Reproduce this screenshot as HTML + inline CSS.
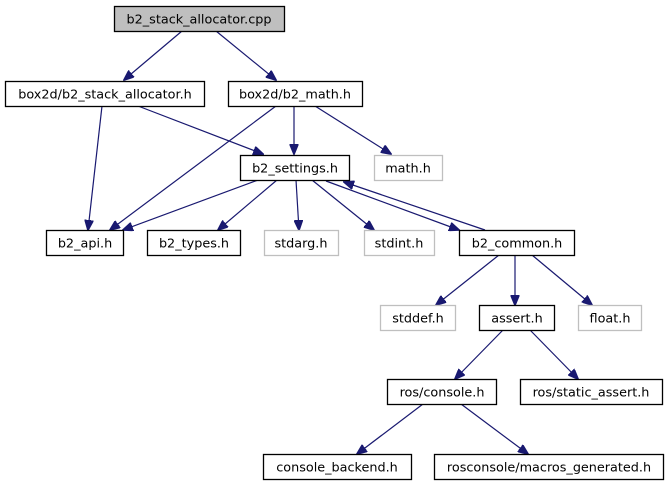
<!DOCTYPE html>
<html><head><style>body{margin:0;background:#fff}svg{display:block}text{font-family:"DejaVu Sans","Liberation Sans",sans-serif;font-size:12.8px}</style></head><body>
<svg width="669" height="485" viewBox="0 0 669 485" xmlns="http://www.w3.org/2000/svg">
<defs><marker id="a" markerWidth="11" markerHeight="9" refX="10" refY="4.5" orient="auto" markerUnits="userSpaceOnUse"><path d="M0,0 L11,4.5 L0,9 z" fill="#191970" stroke="#191970"/></marker></defs>
<g stroke="#191970" stroke-width="1.2" fill="none" marker-end="url(#a)">
<line x1="182" y1="31" x2="124" y2="80"/>
<line x1="216" y1="31" x2="276" y2="80"/>
<line x1="102" y1="106" x2="88" y2="230"/>
<line x1="138" y1="106" x2="263" y2="154"/>
<line x1="276" y1="106" x2="110" y2="230"/>
<line x1="294" y1="106" x2="294" y2="154"/>
<line x1="315" y1="106" x2="391" y2="154"/>
<line x1="258" y1="180" x2="123" y2="230"/>
<line x1="277" y1="180" x2="218" y2="230"/>
<line x1="296" y1="180" x2="299" y2="230"/>
<line x1="312" y1="180" x2="374" y2="230"/>
<line x1="326" y1="181" x2="459" y2="230"/>
<line x1="485" y1="230" x2="344" y2="182"/>
<line x1="499" y1="255" x2="436" y2="305"/>
<line x1="515" y1="255" x2="515" y2="305"/>
<line x1="532" y1="255" x2="592" y2="305"/>
<line x1="503" y1="330" x2="455" y2="379"/>
<line x1="530" y1="330" x2="578" y2="379"/>
<line x1="423" y1="404" x2="357" y2="454"/>
<line x1="461" y1="404" x2="528" y2="454"/>
</g>
<g stroke-width="1.3">
<rect x="114.5" y="6.5" width="170" height="25" fill="#bfbfbf" stroke="#000"/>
<rect x="5.5" y="81.5" width="199" height="25" fill="#fff" stroke="#000"/>
<rect x="228.5" y="81.5" width="134" height="25" fill="#fff" stroke="#000"/>
<rect x="240.5" y="155.5" width="109" height="25" fill="#fff" stroke="#000"/>
<rect x="374.5" y="155.5" width="68" height="25" fill="#fff" stroke="#bfbfbf"/>
<rect x="46.5" y="230.5" width="77" height="25" fill="#fff" stroke="#000"/>
<rect x="147.5" y="230.5" width="93" height="25" fill="#fff" stroke="#000"/>
<rect x="264.5" y="230.5" width="74" height="25" fill="#fff" stroke="#bfbfbf"/>
<rect x="364.5" y="230.5" width="70" height="25" fill="#fff" stroke="#bfbfbf"/>
<rect x="459.5" y="230.5" width="115" height="25" fill="#fff" stroke="#000"/>
<rect x="380.5" y="305.5" width="75" height="25" fill="#fff" stroke="#bfbfbf"/>
<rect x="479.5" y="305.5" width="75" height="25" fill="#fff" stroke="#000"/>
<rect x="578.5" y="305.5" width="63" height="25" fill="#fff" stroke="#bfbfbf"/>
<rect x="387.5" y="379.5" width="109" height="25" fill="#fff" stroke="#000"/>
<rect x="520.5" y="379.5" width="142" height="25" fill="#fff" stroke="#000"/>
<rect x="263.5" y="454.5" width="148" height="25" fill="#fff" stroke="#000"/>
<rect x="434.5" y="454.5" width="229" height="25" fill="#fff" stroke="#000"/>
</g>
<g fill="#000" text-anchor="middle">
<text x="199" y="23.5">b2_stack_allocator.cpp</text>
<text x="105" y="98.5">box2d/b2_stack_allocator.h</text>
<text x="295" y="98.5">box2d/b2_math.h</text>
<text x="295" y="172.5">b2_settings.h</text>
<text x="408" y="172.5">math.h</text>
<text x="85" y="247.5">b2_api.h</text>
<text x="194" y="247.5">b2_types.h</text>
<text x="301" y="247.5">stdarg.h</text>
<text x="399" y="247.5">stdint.h</text>
<text x="517" y="247.5">b2_common.h</text>
<text x="418" y="322.5">stddef.h</text>
<text x="517" y="322.5">assert.h</text>
<text x="610" y="322.5">float.h</text>
<text x="442" y="396.5">ros/console.h</text>
<text x="591" y="396.5">ros/static_assert.h</text>
<text x="337" y="471.5">console_backend.h</text>
<text x="549" y="471.5">rosconsole/macros_generated.h</text>
</g>
</svg>
</body></html>
